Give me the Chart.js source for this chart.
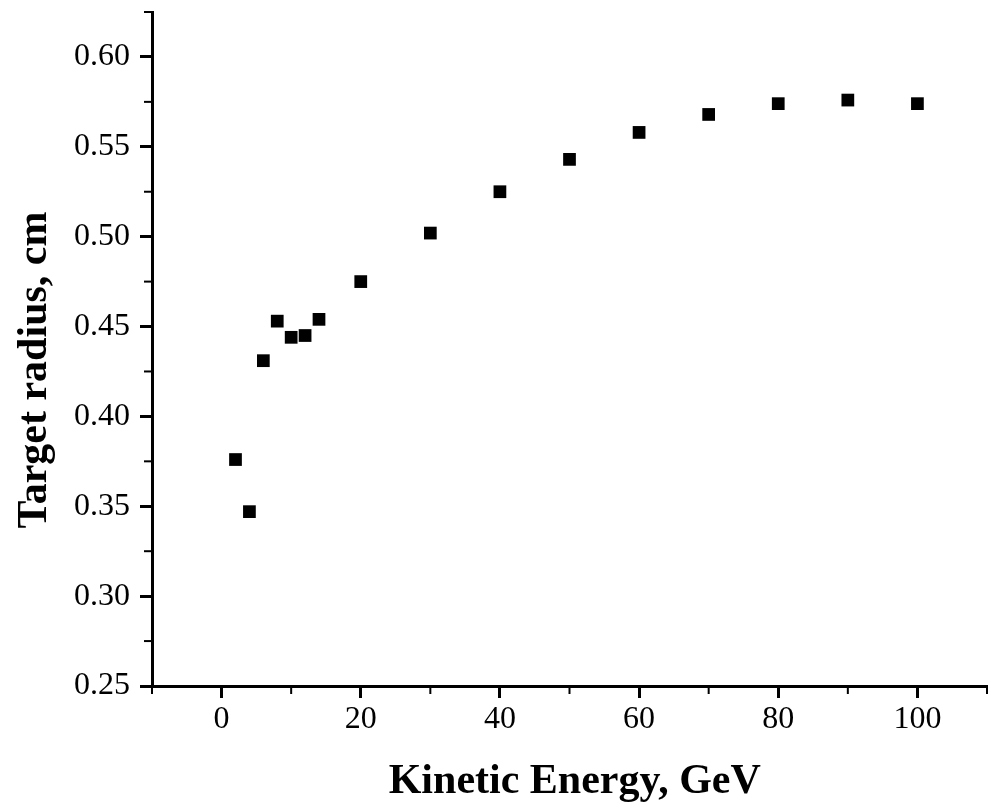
<!DOCTYPE html>
<html>
<head>
<meta charset="utf-8">
<script src="https://cdn.jsdelivr.net/npm/chart.js@4"></script>
<style>
  body { margin: 0; background: #fff; overflow: hidden; }
  #wrap { width: 989px; height: 803px; }
</style>
</head>
<body>
<div id="wrap"><canvas id="radiusChart"></canvas></div>
<script>
// Kinetic energy (GeV) and target radius (cm)
var energy = [2, 4, 6, 8, 10, 12, 14, 20, 30, 40, 50, 60, 70, 80, 90, 100];
var radius = [0.376, 0.347, 0.431, 0.453, 0.444, 0.445, 0.454, 0.475, 0.502, 0.525, 0.543, 0.558, 0.568, 0.574, 0.576, 0.574];

// axis ranges, major labels every 20 / 0.05
var xMin = -10, xMax = 110;
var yMin = 0.25, yMax = 0.625;

var points = energy.map(function (e, i) { return { x: e, y: radius[i] }; });

function isMajorX(v) { return Math.round(v) % 20 === 0 && v > xMin && v < xMax; }
function isMajorY(v) { return Math.round(v * 1000) % 50 === 0; }

// short minor ticks drawn through the scales
var minorTicks = {
  id: 'minorTicks',
  afterDraw: function (chart) {
    var ctx = chart.ctx, x = chart.scales.x, y = chart.scales.y;
    ctx.save();
    ctx.strokeStyle = '#000';
    ctx.lineWidth = 2;
    x.ticks.forEach(function (t) {
      if (isMajorX(t.value)) return;
      var px = x.getPixelForValue(t.value);
      ctx.beginPath(); ctx.moveTo(px, x.top); ctx.lineTo(px, x.top + 8); ctx.stroke();
    });
    y.ticks.forEach(function (t) {
      if (isMajorY(t.value)) return;
      var py = y.getPixelForValue(t.value);
      ctx.beginPath(); ctx.moveTo(y.right, py); ctx.lineTo(y.right - 8, py); ctx.stroke();
    });
    ctx.restore();
  }
};

var ctx = document.getElementById('radiusChart');
new Chart(ctx, {
  type: 'scatter',
  data: {
    datasets: [{
      data: points,
      pointStyle: 'rect',
      pointRadius: 9,
      pointHoverRadius: 9,
      backgroundColor: '#000',
      borderWidth: 0,
      clip: false
    }]
  },
  options: {
    responsive: true,
    maintainAspectRatio: false,
    animation: false,
    layout: { autoPadding: false, padding: { top: 12, right: 2, left: 0, bottom: 0 } },
    plugins: { legend: { display: false }, tooltip: { enabled: false } },
    scales: {
      x: {
        type: 'linear',
        min: xMin, max: xMax,
        afterFit: function (s) { s.height = 117; s.paddingLeft = 0; s.paddingRight = 0; },
        border: { display: true, color: '#000', width: 3 },
        grid: {
          drawOnChartArea: false, drawTicks: true, tickLength: 12, tickWidth: 3,
          tickColor: function (c) { return isMajorX(c.tick.value) ? '#000' : 'rgba(0,0,0,0)'; }
        },
        ticks: {
          stepSize: 10, autoSkip: false, maxRotation: 0, padding: 2,
          color: '#000',
          font: { family: 'Liberation Serif', size: 32 },
          callback: function (v) { return isMajorX(v) ? String(v) : ''; }
        },
        title: {
          display: true, text: '\u00a0Kinetic Energy, GeV', color: '#000',
          font: { family: 'Liberation Serif', size: 42, weight: 'bold', lineHeight: 1 },
          padding: { top: 0, bottom: 0 }
        }
      },
      y: {
        type: 'linear',
        min: yMin, max: yMax,
        afterFit: function (s) { s.width = 152; s.paddingTop = 0; s.paddingBottom = 0; },
        border: { display: true, color: '#000', width: 3 },
        grid: {
          drawOnChartArea: false, drawTicks: true, tickLength: 12, tickWidth: 3,
          tickColor: function (c) { return isMajorY(c.tick.value) ? '#000' : 'rgba(0,0,0,0)'; }
        },
        ticks: {
          stepSize: 0.025, autoSkip: false, padding: 10,
          color: '#000',
          font: { family: 'Liberation Serif', size: 32 },
          callback: function (v) { return isMajorY(v) ? v.toFixed(2) : ''; }
        },
        title: {
          display: true, text: 'Target radius, cm\u00a0\u00a0\u00a0\u00a0', color: '#000',
          font: { family: 'Liberation Serif', size: 42, weight: 'bold', lineHeight: 1 },
          padding: { top: 14, bottom: 0 }
        }
      }
    }
  },
  plugins: [minorTicks]
});
</script>
</body>
</html>
